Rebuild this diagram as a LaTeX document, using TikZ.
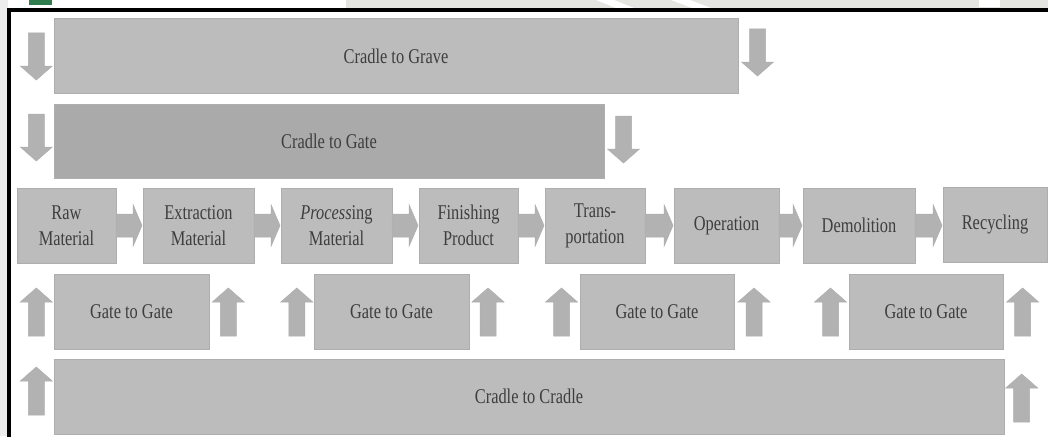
\documentclass[tikz,border=0pt]{standalone}
\usepackage{fontspec}
\setmainfont{Liberation Serif}[FakeStretch=0.78]
\usetikzlibrary{calc}
\definecolor{boxfill}{HTML}{BCBCBC}
\definecolor{boxdark}{HTML}{AAAAAA}
\definecolor{boxedge}{HTML}{AEAEAE}
\definecolor{arrowgray}{HTML}{B2B2B2}
\definecolor{labelgray}{HTML}{3E3E3E}
\definecolor{stripgray}{HTML}{E4E4E0}
\definecolor{margingray}{HTML}{EDEDED}
\definecolor{icongreen}{HTML}{2F7D4F}

\tikzset{
  box/.style={draw=boxedge, line width=1pt, fill=boxfill, inner sep=0pt, outer sep=0pt,
    align=center, text=labelgray, font=\fontsize{21}{26}\selectfont},
  arrowfill/.style={fill=arrowgray, draw=boxedge, line width=0.5pt},
  down blk/.pic={\path[arrowfill] (-8,0) -- (8,0) -- (8,33) -- (16,33) -- (0,47)
      -- (-16,33) -- (-8,33) -- cycle;},
  up blk/.pic={\path[arrowfill] (0,0) -- (16,14) -- (8,14) -- (8,48) -- (-8,48)
      -- (-8,14) -- (-16,14) -- cycle;}
}

% block arrow from the right side of one stage to the left side of the next
\newcommand\flowarrow[2]{%
  \path[arrowfill] let \p1=(#1.east), \p2=(#2.west) in
    (\x1,\y1+11.5pt) -- (\x2-10pt,\y1+11.5pt) -- (\x2-10pt,\y1+21pt) -- (\x2-1pt,\y1)
    -- (\x2-10pt,\y1-21pt) -- (\x2-10pt,\y1-11.5pt) -- (\x1,\y1-11.5pt) -- cycle;}

\begin{document}
\begin{tikzpicture}[x=1pt,y=-1pt]
\useasboundingbox (0,0) rectangle (1048,436);
\fill[white] (0,0) rectangle (1048,436);

% strip above the frame
\fill[margingray] (0,0) rectangle (8,436);
\fill[stripgray] (346,0) rectangle (1048,8);
\fill[white] (596,0) -- (614,0) -- (634,8) -- (616,8) -- cycle;
\fill[white] (671,0) -- (690,0) -- (711,8) -- (692,8) -- cycle;
\fill[white] (979,0) rectangle (1000,7);
\fill[icongreen] (29,0) rectangle (52,5);

% frame
\draw[line width=3.5pt, line cap=rect] (9,436) -- (9,10) -- (1050,10);

% life-cycle scopes
\node[box, minimum width=684, minimum height=74] (grave) at (396,56) {Cradle to Grave};
\node[box, fill=boxdark, minimum width=550, minimum height=74] (gate) at (329,141) {Cradle to Gate};

% stages
\node[box, minimum width=99,  minimum height=75] (raw)   at (66.5,225.5) {Raw\\Material};
\node[box, minimum width=111, minimum height=75] (extr)  at (198.5,225.5) {Extraction\\Material};
\node[box, minimum width=111, minimum height=75] (proc)  at (336.5,225.5) {\textit{Process}ing\\Material};
\node[box, minimum width=99,  minimum height=75] (fin)   at (468.5,225.5) {Finishing\\Product};
\node[box, minimum width=100, minimum height=75] (trans) at (595,225.5) {Trans-\\portation};
\node[box, minimum width=105, minimum height=75] (oper)  at (726.5,225.5) {Operation};
\node[box, minimum width=112, minimum height=75] (demo)  at (859,225.5) {Demolition};
\node[box, minimum width=104, minimum height=75] (recy)  at (995,224.5) {Recycling};

\flowarrow{raw}{extr}
\flowarrow{extr}{proc}
\flowarrow{proc}{fin}
\flowarrow{fin}{trans}
\flowarrow{trans}{oper}
\flowarrow{oper}{demo}
\flowarrow{demo}{recy}

% gate-to-gate scopes
\node[box, minimum width=155, minimum height=75] (gg1) at (131.5,311.5) {Gate to Gate};
\node[box, minimum width=155, minimum height=75] (gg2) at (391.5,311.5) {Gate to Gate};
\node[box, minimum width=154, minimum height=75] (gg3) at (657,311.5) {Gate to Gate};
\node[box, minimum width=154, minimum height=75] (gg4) at (926,311.5) {Gate to Gate};

\node[box, minimum width=950, minimum height=75] (c2c) at (529,396.5) {Cradle to Cradle};

% scope boundary arrows
\pic at (36.3,33) {down blk};
\pic at (757.5,29) {down blk};
\pic at (36.3,114) {down blk};
\pic at (623.5,116) {down blk};

\foreach \cx in {36.3,228.3,296.8,488,561.5,754,830.5,1022.6}
  \pic at (\cx,288) {up blk};

\pic at (36.3,367) {up blk};
\pic at (1021.7,374) {up blk};
\end{tikzpicture}
\end{document}
